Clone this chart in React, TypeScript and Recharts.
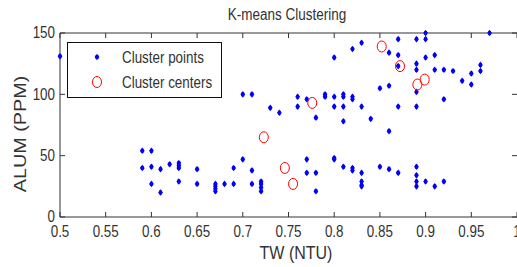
import { ScatterChart, Scatter, XAxis, YAxis, ReferenceLine, Legend } from "recharts";

// TW (NTU) / ALUM (PPM)
const pointTW = [
  0.5, 0.59, 0.59, 0.6, 0.6, 0.6, 0.61, 0.61, 0.62, 0.63, 0.63, 0.63, 0.63, 0.65, 0.65,
  0.67, 0.67, 0.67, 0.67, 0.68, 0.69, 0.69, 0.7, 0.7, 0.71, 0.71, 0.71, 0.72, 0.72, 0.72,
  0.72, 0.73, 0.74, 0.76, 0.76, 0.77, 0.77, 0.77, 0.78, 0.78, 0.78, 0.79, 0.79, 0.8, 0.8,
  0.8, 0.8, 0.8, 0.81, 0.81, 0.81, 0.81, 0.81, 0.82, 0.82, 0.82, 0.82, 0.82, 0.83, 0.83,
  0.83, 0.83, 0.83, 0.83, 0.84, 0.85, 0.85, 0.86, 0.86, 0.86, 0.86, 0.87, 0.87, 0.87, 0.87,
  0.87, 0.89, 0.89, 0.89, 0.89, 0.89, 0.89, 0.89, 0.89, 0.89, 0.9, 0.9, 0.9, 0.9, 0.91,
  0.91, 0.91, 0.92, 0.92, 0.92, 0.93, 0.94, 0.95, 0.95, 0.96, 0.96, 0.97,
];
const pointAlum = [
  131, 54, 40, 54, 41, 27, 39, 20, 43, 44, 42, 40, 29, 39, 27,
  27, 25, 23, 21, 27, 40, 27, 47, 100, 38, 27, 100, 29, 27, 24,
  21, 89, 85, 98, 90, 96, 47, 36, 81, 36, 21, 100, 98, 130, 98,
  90, 48, 47, 100, 98, 90, 78, 41, 137, 98, 96, 40, 38, 142, 90,
  36, 29, 26, 25, 80, 105, 41, 134, 107, 70, 39, 145, 132, 123, 90,
  36, 145, 125, 120, 102, 90, 41, 34, 29, 25, 150, 145, 130, 29, 132,
  120, 25, 120, 96, 29, 119, 111, 117, 108, 124, 119, 150,
];
const centerTW = [0.723, 0.746, 0.755, 0.776, 0.852, 0.872, 0.891, 0.899];
const centerAlum = [65, 40, 27, 93, 139, 123, 108, 112];

const xTicks = [0.5, 0.55, 0.6, 0.65, 0.7, 0.75, 0.8, 0.85, 0.9, 0.95, 1];
const yTicks = [0, 50, 100, 150];

const pointData = pointTW.map((tw, i) => ({ tw, alum: pointAlum[i] }));
const centerData = centerTW.map((tw, i) => ({ tw, alum: centerAlum[i] }));

const FONT = "'Liberation Sans', Arial, Helvetica, sans-serif";
const INK = "#333";
const W = 517;
const H = 267;
const TOP = 33;
const BOTTOM = 217;

const Star = ({ cx, cy }: any) => (
  <g fill="#0000ff">
    <path d={`M${cx},${cy - 3.3} L${cx + 2.4},${cy} L${cx},${cy + 3.3} L${cx - 2.4},${cy} Z`} />
    <rect x={cx - 1.4} y={cy - 2} width={2.8} height={4} />
  </g>
);

const Ring = ({ cx, cy }: any) => (
  <ellipse cx={cx} cy={cy} rx={4.5} ry={5.5} fill="none" stroke="#ff0000" strokeWidth={1} />
);

// text a little stretched vertically, like the source image
const Txt = ({ x, y, size, anchor = "middle", rotate = 0, children }: any) => (
  <text
    transform={`translate(${x},${y}) rotate(${rotate}) ${rotate ? "scale(1.2,1)" : "scale(1,1.2)"}`}
    textAnchor={anchor}
    dominantBaseline="central"
    fontSize={size}
    fontFamily={FONT}
    fill={INK}
  >
    {children}
  </text>
);

const XTick = ({ x, payload }: any) => (
  <g>
    <line x1={x} x2={x} y1={BOTTOM} y2={BOTTOM - 5} stroke={INK} />
    <line x1={x} x2={x} y1={TOP} y2={TOP + 5} stroke={INK} />
    <Txt x={x} y={231.5} size={13.4}>{String(payload.value)}</Txt>
  </g>
);

const YTick = ({ y, payload }: any) => (
  <g>
    <line x1={60} x2={65} y1={y} y2={y} stroke={INK} />
    <line x1={W - 5} x2={W} y1={y} y2={y} stroke={INK} />
    <Txt x={55} y={y} size={13.4} anchor="end">{String(payload.value)}</Txt>
  </g>
);

const LegendBox = () => (
  <svg width={156} height={57} style={{ display: "block" }}>
    <rect x={0.5} y={0.5} width={154} height={55} fill="#fff" stroke="#111" />
    <Star cx={30} cy={15} />
    <Ring cx={30} cy={40} />
    <Txt x={55} y={16} size={13.4} anchor="start">Cluster points</Txt>
    <Txt x={55} y={40.5} size={13.4} anchor="start">Cluster centers</Txt>
  </svg>
);

export default function App() {
  return (
    <div style={{ position: "absolute", left: 0, top: 0, width: W, height: H, background: "#fff" }}>
      <ScatterChart width={W} height={H} margin={{ top: TOP, right: 0, bottom: 0, left: 0 }}>
        <XAxis
          type="number"
          dataKey="tw"
          domain={[0.5, 1]}
          ticks={xTicks}
          height={50}
          tickSize={0}
          tickMargin={0}
          tickLine={false}
          axisLine={{ stroke: INK }}
          tick={<XTick />}
          interval={0}
        />
        <YAxis
          type="number"
          dataKey="alum"
          domain={[0, 150]}
          ticks={yTicks}
          width={60}
          tickSize={0}
          tickMargin={0}
          tickLine={false}
          axisLine={{ stroke: INK }}
          tick={<YTick />}
          interval={0}
        />
        <ReferenceLine y={150} stroke={INK} />
        <Legend
          layout="vertical"
          align="center"
          verticalAlign="middle"
          wrapperStyle={{ left: 67, top: 42, width: 156, height: 57 }}
          content={() => <LegendBox />}
        />
        <Scatter name="Cluster points" data={pointData} shape={<Star />} isAnimationActive={false} />
        <Scatter name="Cluster centers" data={centerData} shape={<Ring />} isAnimationActive={false} />
      </ScatterChart>
      <svg width={W} height={H} style={{ position: "absolute", left: 0, top: 0, pointerEvents: "none" }}>
        <Txt x={287} y={14.5} size={13.5}>K-means Clustering</Txt>
        <Txt x={296} y={252} size={16}>TW (NTU)</Txt>
        <Txt x={21} y={134} size={16.5} rotate={-90}>ALUM (PPM)</Txt>
      </svg>
    </div>
  );
}
